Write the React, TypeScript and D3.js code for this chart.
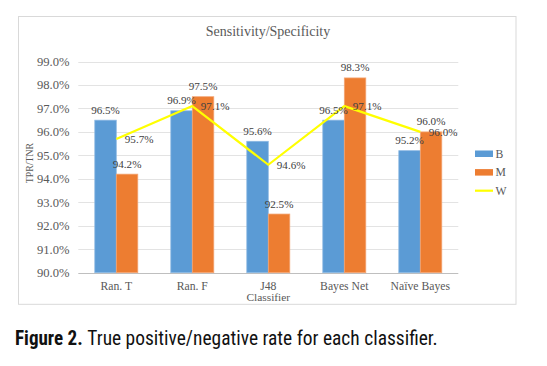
import React from 'react';
import * as d3 from 'd3';

const categories = ['Ran. T', 'Ran. F', 'J48', 'Bayes Net', 'Naïve Bayes'];
const seriesB = [96.5, 96.9, 95.6, 96.5, 95.2];
const seriesM = [94.2, 97.5, 92.5, 98.3, 96.0];
const seriesW = [95.7, 97.1, 94.6, 97.1, 96.0];
const yTicks = [90, 91, 92, 93, 94, 95, 96, 97, 98, 99];

const W = 547;
const H = 366;
const plot = { left: 78.3, right: 458.3, top: 61.5, bottom: 272.7 };

const textGray = '#595959';
const labelGray = '#404040';
const blue = '#5B9BD5';
const orange = '#ED7D31';
const yellow = '#FFFF00';
const serif = '"Liberation Serif", "Times New Roman", serif';

const fmt = (v: number) => `${v.toFixed(1)}%`;

const App = () => {
  const x = d3.scaleBand<string>().domain(categories).range([plot.left, plot.right]).padding(0);
  const y = d3.scaleLinear().domain([90, 99]).range([plot.bottom, plot.top]);

  const groupW = x.bandwidth() * 0.566;
  const x1 = d3.scaleBand<string>().domain(['B', 'M']).range([0, groupW]);
  const groupX = (c: string) => (x(c) as number) + (x.bandwidth() - groupW) / 2;
  const cx = (c: string) => (x(c) as number) + x.bandwidth() / 2;

  const line = d3
    .line<number>()
    .x((_, i) => cx(categories[i]))
    .y((d) => y(d));

  const bars = [
    { key: 'B', values: seriesB, color: blue, stroke: '#8DB9E3' },
    { key: 'M', values: seriesM, color: orange, stroke: '#F3A676' },
  ];

  const legend = [
    { key: 'B', type: 'rect', color: blue },
    { key: 'M', type: 'rect', color: orange },
    { key: 'W', type: 'line', color: yellow },
  ];

  return (
    <div style={{ position: 'absolute', left: 0, top: 0 }}>
      <svg width={W} height={H} style={{ display: 'block', background: '#fff' }}>
        {/* chart frame */}
        <rect x={18.5} y={16.5} width={497.5} height={287.8} fill="#fff" stroke="#D9D9D9" strokeWidth={1} />
        <text x={268} y={36} textAnchor="middle" fontFamily={serif} fontSize={14} fill={textGray}>
          Sensitivity/Specificity
        </text>

        {/* grid + y ticks */}
        {yTicks.map((t) => (
          <g key={t}>
            <line
              x1={plot.left}
              x2={plot.right}
              y1={Math.round(y(t)) + 0.5}
              y2={Math.round(y(t)) + 0.5}
              stroke={t === 90 ? '#BFBFBF' : '#E3E3E3'}
              strokeWidth={1}
            />
            <text
              x={69.5}
              y={y(t)}
              dy="0.35em"
              textAnchor="end"
              fontFamily={serif}
              fontSize={12.6}
              fill={textGray}
            >
              {fmt(t)}
            </text>
          </g>
        ))}

        <text
          transform={`translate(30,163) rotate(-90)`}
          textAnchor="middle"
          dy="0.35em"
          fontFamily={serif}
          fontSize={9.8}
          fill={textGray}
        >
          TPR/TNR
        </text>

        {/* bars */}
        {bars.map((s) =>
          s.values.map((v, i) => {
            const c = categories[i];
            const bx = groupX(c) + (x1(s.key) as number);
            return (
              <rect
                key={s.key + c}
                x={bx}
                y={y(v)}
                width={x1.bandwidth()}
                height={plot.bottom - y(v)}
                fill={s.color}
                stroke={s.stroke}
                strokeWidth={0.75}
              />
            );
          })
        )}

        {/* W line */}
        <path d={line(seriesW) as string} fill="none" stroke={yellow} strokeWidth={2.2} strokeLinejoin="round" />

        {/* bar labels */}
        {bars.map((s) =>
          s.values.map((v, i) => {
            const c = categories[i];
            const bx = groupX(c) + (x1(s.key) as number) + x1.bandwidth() / 2;
            return (
              <text
                key={'l' + s.key + c}
                x={bx}
                y={y(v) - 6.5}
                textAnchor="middle"
                fontFamily={serif}
                fontSize={11.1}
                fill={labelGray}
              >
                {fmt(v)}
              </text>
            );
          })
        )}

        {/* W labels */}
        {seriesW.map((v, i) => (
          <text
            key={'w' + i}
            x={cx(categories[i]) + 8.5}
            y={y(v)}
            dy="0.35em"
            fontFamily={serif}
            fontSize={11.1}
            fill={labelGray}
          >
            {fmt(v)}
          </text>
        ))}

        {/* x labels */}
        {categories.map((c) => (
          <text
            key={'x' + c}
            x={cx(c)}
            y={286.3}
            dy="0.35em"
            textAnchor="middle"
            fontFamily={serif}
            fontSize={11.7}
            fill={textGray}
          >
            {c}
          </text>
        ))}
        <text x={cx('J48')} y={296.8} dy="0.35em" textAnchor="middle" fontFamily={serif} fontSize={11.4} fill={textGray}>
          Classifier
        </text>

        {/* legend */}
        {legend.map((l, i) => {
          const ly = 153.5 + i * 18.6;
          return (
            <g key={'lg' + l.key}>
              {l.type === 'rect' ? (
                <rect x={475} y={ly - 3} width={18} height={6.5} fill={l.color} />
              ) : (
                <line x1={475} x2={493} y1={ly} y2={ly} stroke={l.color} strokeWidth={2.2} />
              )}
              <text x={495.5} y={ly} dy="0.35em" fontFamily={serif} fontSize={11.7} fill={textGray}>
                {l.key}
              </text>
            </g>
          );
        })}

        {/* caption */}
        <text
          x={15}
          y={345}
          fontFamily='"Liberation Sans Narrow", "Roboto Condensed", "Arial Narrow", sans-serif'
          fontWeight="bold"
          fontSize={19.5}
          fill="#111"
          textLength={67.7}
          lengthAdjust="spacingAndGlyphs"
        >
          Figure 2.
        </text>
        <text
          x={87.3}
          y={345}
          fontFamily='"Liberation Sans Narrow", "Roboto Condensed", "Arial Narrow", sans-serif'
          fontSize={19.5}
          fill="#111"
          textLength={350.4}
          lengthAdjust="spacingAndGlyphs"
        >
          True positive/negative rate for each classifier.
        </text>
      </svg>
    </div>
  );
};

export default App;
